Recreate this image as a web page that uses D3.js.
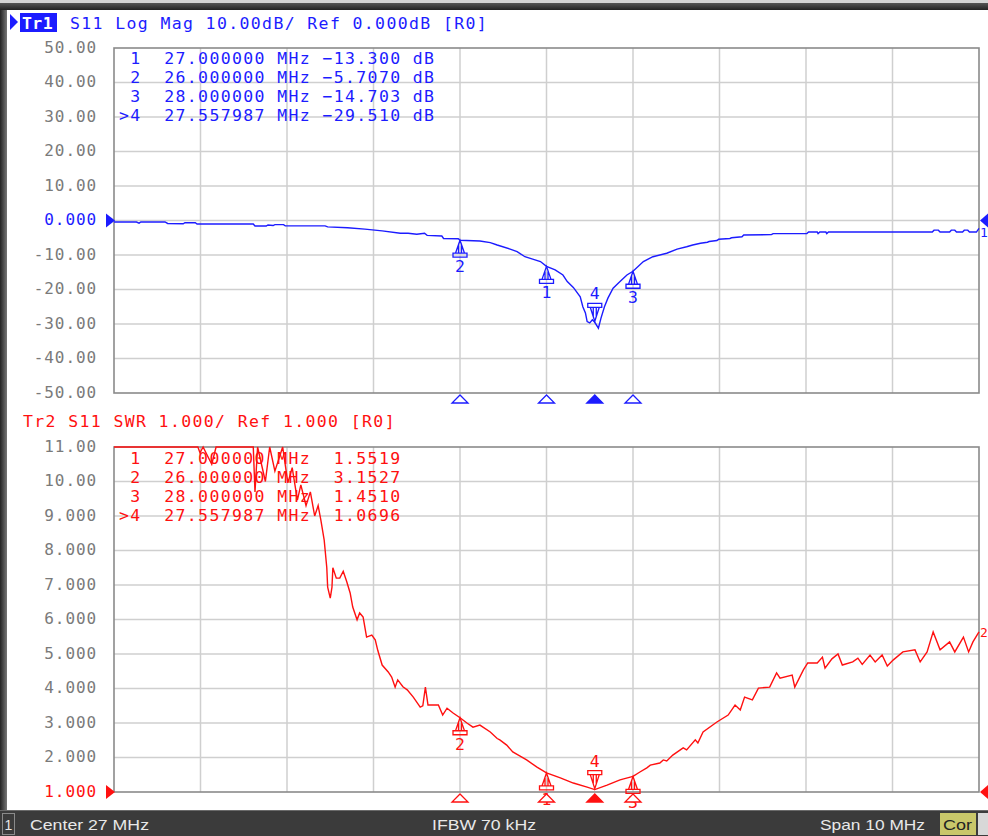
<!DOCTYPE html>
<html><head><meta charset="utf-8">
<script src="https://cdn.jsdelivr.net/npm/d3@7"></script>
<style>
html,body{margin:0;padding:0;background:#fff;}
svg{display:block;}
text{white-space:pre;}
</style></head>
<body>
<svg id="c" width="988" height="836"></svg>
<script>
// ---------------- DATA ----------------
const freqTicks = [22,23,24,25,26,27,28,29,30,31,32];
const s11Ticks = [50,40,30,20,10,0,-10,-20,-30,-40,-50];
const s11TickLabels = ["50.00","40.00","30.00","20.00","10.00","0.000","-10.00","-20.00","-30.00","-40.00","-50.00"];
const swrTicks = [11,10,9,8,7,6,5,4,3,2,1];
const swrTickLabels = ["11.00","10.00","9.000","8.000","7.000","6.000","5.000","4.000","3.000","2.000","1.000"];

const s11Freq = [22.00,22.26,22.29,22.31,22.59,22.62,22.80,22.82,22.94,22.96,23.05,23.20,23.61,23.63,23.76,23.78,23.84,23.86,23.96,23.98,24.44,24.47,24.70,24.90,25.10,25.31,25.40,25.50,25.59,25.62,25.79,25.81,25.98,26.00,26.23,26.35,26.43,26.58,26.66,26.75,26.84,26.93,27.00,27.10,27.19,27.24,27.31,27.39,27.42,27.45,27.47,27.50,27.53,27.558,27.60,27.63,27.67,27.71,27.77,27.85,27.93,28.00,28.12,28.23,28.39,28.51,28.62,28.69,28.78,28.86,28.88,28.97,28.99,29.12,29.14,29.26,29.28,29.60,29.62,30.01,30.03,30.13,30.14,30.16,30.23,30.24,30.26,31.46,31.48,31.53,31.55,31.66,31.68,31.72,31.74,31.81,31.83,31.87,31.89,31.97,32.00];
const s11dB = [-0.43,-0.43,-0.75,-0.43,-0.43,-0.85,-0.95,-0.65,-0.65,-1.0,-1.0,-1.0,-1.0,-1.6,-1.6,-1.3,-1.45,-1.2,-1.2,-1.55,-1.55,-1.85,-2.1,-2.5,-3.0,-3.7,-3.7,-4.0,-3.7,-4.3,-4.5,-5.2,-5.3,-5.707,-5.95,-6.4,-7.1,-8.3,-9.0,-10.5,-11.2,-11.9,-13.3,-14.3,-15.8,-17.7,-19.4,-22.1,-25.0,-26.8,-29.3,-29.7,-28.8,-29.51,-31.2,-28.3,-25.0,-22.5,-19.6,-17.7,-15.8,-14.703,-11.9,-10.5,-9.5,-8.3,-7.6,-7.1,-6.6,-6.3,-6.1,-5.8,-5.45,-5.2,-5.0,-4.7,-4.2,-4.1,-3.8,-3.8,-3.35,-3.35,-3.8,-3.35,-3.35,-3.8,-3.35,-3.35,-2.8,-2.8,-3.35,-3.35,-2.8,-2.8,-3.35,-3.35,-2.8,-2.8,-3.35,-3.35,-2.3];

const swrFreq = [22.00,22.97,22.994,23.03,23.13,23.18,23.61,23.63,23.66,23.75,23.80,23.86,23.95,24.01,24.06,24.12,24.16,24.22,24.27,24.32,24.36,24.39,24.43,24.46,24.47,24.50,24.52,24.53,24.57,24.61,24.65,24.69,24.73,24.76,24.81,24.84,24.88,24.92,24.98,25.02,25.05,25.10,25.17,25.21,25.25,25.28,25.34,25.39,25.46,25.54,25.57,25.60,25.63,25.75,25.80,25.85,25.92,26.00,26.08,26.15,26.23,26.35,26.43,26.46,26.54,26.61,26.69,26.77,26.89,27.00,27.16,27.31,27.47,27.558,27.70,27.85,28.00,28.08,28.16,28.20,28.31,28.35,28.39,28.46,28.58,28.62,28.72,28.75,28.81,28.97,29.10,29.18,29.24,29.29,29.38,29.45,29.58,29.66,29.70,29.84,29.87,29.97,30.02,30.13,30.19,30.22,30.30,30.37,30.42,30.54,30.60,30.65,30.74,30.80,30.88,30.94,31.01,31.12,31.26,31.32,31.40,31.47,31.55,31.66,31.72,31.82,31.88,31.93,32.00];
const swrVal = [12,12,10.83,12,10.5,12,12,9.7,12,10.0,12,10.3,12,9.96,10.4,9.46,9.9,9.3,9.7,9.0,9.3,8.9,8.3,7.5,6.94,6.62,6.94,7.5,7.2,7.2,7.4,7.1,6.77,6.36,5.99,6.19,6.07,5.49,5.55,5.41,5.1,4.68,4.48,4.33,4.04,4.25,4.05,3.96,3.75,3.46,3.5,4.04,3.52,3.52,3.23,3.43,3.29,3.1527,3.0,2.88,2.94,2.74,2.55,2.51,2.36,2.16,2.05,1.93,1.72,1.5519,1.41,1.26,1.14,1.0696,1.2,1.35,1.451,1.58,1.70,1.78,1.84,1.93,1.90,2.07,2.28,2.22,2.51,2.42,2.74,3.03,3.23,3.52,3.38,3.75,3.67,4.01,4.04,4.45,4.30,4.39,4.04,4.54,4.74,4.74,4.91,4.59,4.86,5.0,4.68,4.77,4.88,4.7,4.97,4.77,4.97,4.65,4.83,5.06,5.12,4.77,5.06,5.64,5.12,5.35,5.06,5.49,5.06,5.35,5.64];

const markerIds = ["1","2","3","4"];
const markerFreq = [27.000000, 26.000000, 28.000000, 27.557987];
const markerS11 = [-13.300, -5.7070, -14.703, -29.510];
const markerSWR = [1.5519, 3.1527, 1.4510, 1.0696];
const activeMarker = "4";

const header1 = ["Tr1", "S11 Log Mag 10.00dB/ Ref 0.000dB [R0]"];
const header2 = "Tr2 S11 SWR 1.000/ Ref 1.000 [R0]";
const statusTexts = ["Center 27 MHz", "IFBW 70 kHz", "Span 10 MHz", "Cor"];

// ---------------- DRAW ----------------
const svg = d3.select("#c");
const BLUE = "#1c1cff", RED = "#ff1010", GRID = "#cfcfcf", FRAME = "#8a8a8a", LABEL = "#7a7a7a";
const MONO = "'DejaVu Sans Mono', monospace";
const FS = 16.5, LS = 11.3 - 0.602*FS;

const x = d3.scaleLinear().domain([22,32]).range([114,979]);
const y1 = d3.scaleLinear().domain([-50,50]).range([393,48]);
const y2 = d3.scaleLinear().domain([1,11]).range([792,447]).clamp(true);

// window frame
svg.append("rect").attr("x",0).attr("y",0).attr("width",988).attr("height",3).attr("fill","#d4d4d4");
const defs = svg.append("defs");
const gTop = defs.append("linearGradient").attr("id","tg").attr("x1",0).attr("y1",0).attr("x2",0).attr("y2",1);
gTop.append("stop").attr("offset","0").attr("stop-color","#555");
gTop.append("stop").attr("offset","1").attr("stop-color","#222");
svg.append("rect").attr("x",0).attr("y",3).attr("width",988).attr("height",7).attr("fill","url(#tg)");
const gL = defs.append("linearGradient").attr("id","lg").attr("x1",0).attr("y1",0).attr("x2",1).attr("y2",0);
gL.append("stop").attr("offset","0").attr("stop-color","#222");
gL.append("stop").attr("offset","1").attr("stop-color","#777");
svg.append("rect").attr("x",0).attr("y",10).attr("width",7).attr("height",802).attr("fill","url(#lg)");

function panel(y, ticks, labels, color, refVal) {
  const g = svg.append("g");
  const [yTop, yBot] = [y.range()[1], y.range()[0]];
  g.append("g").selectAll("line").data(ticks.slice(1,-1)).join("line")
    .attr("x1",x(22)).attr("x2",x(32)).attr("y1",d=>y(d)).attr("y2",d=>y(d))
    .attr("stroke",GRID).attr("stroke-width",1.5);
  g.append("g").selectAll("line").data(freqTicks.slice(1,-1)).join("line")
    .attr("x1",d=>x(d)).attr("x2",d=>x(d)).attr("y1",yTop).attr("y2",yBot)
    .attr("stroke",GRID).attr("stroke-width",1.5);
  g.append("rect").attr("x",x(22)).attr("y",yTop).attr("width",x(32)-x(22)).attr("height",yBot-yTop)
    .attr("fill","none").attr("stroke",FRAME).attr("stroke-width",1.6);
  g.append("g").selectAll("text").data(ticks).join("text")
    .attr("x",97).attr("y",d=>y(d)+4.5).attr("text-anchor","end")
    .attr("font-family",MONO).attr("font-size",16).attr("letter-spacing",0.9)
    .attr("fill",d=>d===refVal?color:LABEL)
    .text((d,i)=>labels[i]);
  g.append("path").attr("d",`M${x(22)-8},${y(refVal)-7} L${x(22)+1},${y(refVal)} L${x(22)-8},${y(refVal)+7} Z`).attr("fill",color);
  g.append("path").attr("d",`M${x(32)+10},${y(refVal)-8} L${x(32)+1},${y(refVal)} L${x(32)+10},${y(refVal)+8} Z`).attr("fill",color);
  return g;
}

panel(y1, s11Ticks, s11TickLabels, BLUE, 0);
panel(y2, swrTicks, swrTickLabels, RED, 1);

// headers
svg.append("path").attr("d","M10,14 L18,22 L10,30 Z").attr("fill",BLUE);
svg.append("rect").attr("x",20).attr("y",13).attr("width",37).attr("height",19).attr("fill",BLUE);
svg.append("text").attr("x",22).attr("y",29).attr("font-family",MONO).attr("font-size",FS).attr("font-weight","bold")
  .attr("letter-spacing",0.4).attr("fill","#fff").text(header1[0]);
svg.append("text").attr("x",70).attr("y",29).attr("font-family",MONO).attr("font-size",FS)
  .attr("letter-spacing",LS).attr("fill",BLUE).text(header1[1]);
svg.append("text").attr("x",23).attr("y",427).attr("font-family",MONO).attr("font-size",FS)
  .attr("letter-spacing",LS).attr("fill",RED).text(header2);

// traces
const lineTop = d3.line().x(d=>x(d[0])).y(d=>y1(d[1]));
svg.append("path").datum(s11Freq.map((f,i)=>[f,s11dB[i]]))
  .attr("d",lineTop).attr("fill","none").attr("stroke",BLUE).attr("stroke-width",1.4);
const lineBot = d3.line().x(d=>x(d[0])).y(d=>y2(d[1]));
svg.append("path").datum(swrFreq.map((f,i)=>[f,swrVal[i]]))
  .attr("d",lineBot).attr("fill","none").attr("stroke",RED).attr("stroke-width",1.4);

// trace end labels
svg.append("text").attr("x",x(32)+1).attr("y",y1(s11dB[s11dB.length-1])+9).attr("font-family",MONO).attr("font-size",13).attr("fill",BLUE).text("1");
svg.append("text").attr("x",x(32)+1).attr("y",y2(swrVal[swrVal.length-1])+5).attr("font-family",MONO).attr("font-size",13).attr("fill",RED).text("2");

// marker tables
const fmtV = d3.format(".5r");
function tableRows(vals, unit) {
  return markerIds.map((id,i)=>{
    const pre = (id===activeMarker?">":" ")+id;
    let s = pre + "  " + markerFreq[i].toFixed(6) + " MHz " + fmtV(vals[i]).padStart(7);
    if (unit) s += " " + unit;
    return s;
  });
}
svg.append("g").selectAll("text").data(tableRows(markerS11,"dB")).join("text")
  .attr("x",119).attr("y",(d,i)=>64+i*19).attr("font-family",MONO).attr("font-size",FS)
  .attr("letter-spacing",LS).attr("fill",BLUE).text(d=>d);
svg.append("g").selectAll("text").data(tableRows(markerSWR,"")).join("text")
  .attr("x",119).attr("y",(d,i)=>464+i*19).attr("font-family",MONO).attr("font-size",FS)
  .attr("letter-spacing",LS).attr("fill",RED).text(d=>d);

// markers on trace + axis markers
function markers(y, vals, color, axisY) {
  const g = svg.append("g");
  markerIds.forEach((id,i)=>{
    const mx = x(markerFreq[i]), my = y(vals[i]);
    const active = id===activeMarker;
    if (!active) {
      g.append("path").attr("d",`M${mx},${my} L${mx-4.5},${my+13} L${mx+4.5},${my+13} Z M${mx-7},${my+13} h14 v4 h-14 Z M${mx-1.5},${my+5} v8 M${mx+1.5},${my+5} v8`)
        .attr("fill","none").attr("stroke",color).attr("stroke-width",1.3);
      g.append("text").attr("x",mx).attr("y",my+32).attr("text-anchor","middle")
        .attr("font-family",MONO).attr("font-size",FS).attr("fill",color).text(id);
    } else {
      g.append("path").attr("d",`M${mx},${my-1} L${mx-4.5},${my-15} L${mx+4.5},${my-15} Z M${mx-7},${my-15} h14 v-4 h-14 Z M${mx-1.5},${my-6} v-9 M${mx+1.5},${my-6} v-9`)
        .attr("fill","none").attr("stroke",color).attr("stroke-width",1.3);
      g.append("text").attr("x",mx).attr("y",my-23).attr("text-anchor","middle")
        .attr("font-family",MONO).attr("font-size",FS).attr("fill",color).text(id);
    }
    g.append("path").attr("d",`M${mx},${axisY+2} L${mx-8},${axisY+10} L${mx+8},${axisY+10} Z`)
      .attr("fill",active?color:"#fff").attr("stroke",color).attr("stroke-width",1.3);
  });
}
markers(y1, markerS11, BLUE, 393);
markers(y2, markerSWR, RED, 792);

// status bar
const sb = svg.append("g");
const SF = "'Liberation Sans',Arial,sans-serif";
sb.append("rect").attr("x",0).attr("y",810).attr("width",988).attr("height",26).attr("fill","#3b3b3b");
sb.append("line").attr("x1",0).attr("x2",988).attr("y1",810.5).attr("y2",810.5).attr("stroke","#6a6a6a");
sb.append("rect").attr("x",2.5).attr("y",813.5).attr("width",12).attr("height",21).attr("fill","none").attr("stroke","#8a8a8a");
sb.append("text").attr("x",8.5).attr("y",830).attr("text-anchor","middle").attr("font-family",SF)
  .attr("font-size",14).attr("fill","#e8e8e8").text("1");
sb.append("text").attr("x",30).attr("y",830).attr("font-family",SF).attr("font-size",14).attr("textLength",119).attr("lengthAdjust","spacingAndGlyphs").attr("fill","#e8e8e8").text(statusTexts[0]);
sb.append("text").attr("x",432).attr("y",830).attr("font-family",SF).attr("font-size",14).attr("textLength",104).attr("lengthAdjust","spacingAndGlyphs").attr("fill","#e8e8e8").text(statusTexts[1]);
sb.append("text").attr("x",820).attr("y",830).attr("font-family",SF).attr("font-size",14).attr("textLength",105).attr("lengthAdjust","spacingAndGlyphs").attr("fill","#e8e8e8").text(statusTexts[2]);
sb.append("rect").attr("x",940).attr("y",813).attr("width",36).attr("height",22).attr("fill","#c9c76a");
sb.append("text").attr("x",943).attr("y",830).attr("font-family",SF).attr("font-size",14).attr("textLength",29).attr("lengthAdjust","spacingAndGlyphs").attr("fill","#222").text(statusTexts[3]);
sb.append("rect").attr("x",978).attr("y",813).attr("width",12).attr("height",22).attr("fill","#d8d8d8");
</script>
</body></html>
